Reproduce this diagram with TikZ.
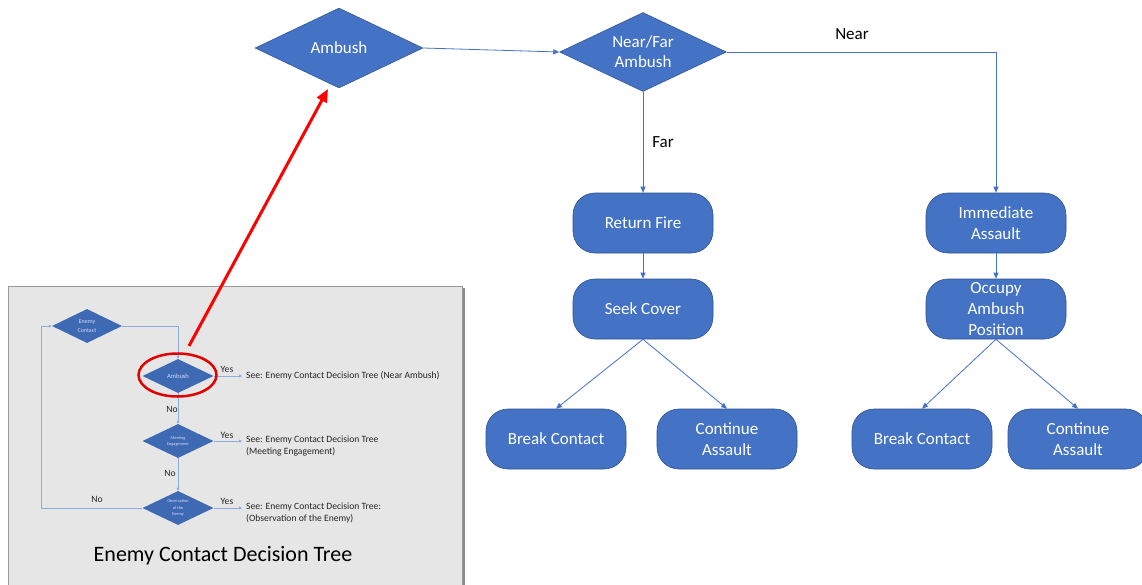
\documentclass[tikz,border=0pt]{standalone}
\usepackage{fontspec}
\setmainfont{Carlito}
\usetikzlibrary{shapes.geometric,arrows.meta}
\definecolor{blu}{HTML}{4472C4}
\definecolor{bluedge}{HTML}{2F528F}
\definecolor{insetbg}{HTML}{E6E6E6}
\definecolor{insetline}{HTML}{8FAADC}
\definecolor{insetdia}{HTML}{3E69B3}
\begin{document}
\begin{tikzpicture}[x=1pt,y=-1pt,
  dia/.style={diamond, fill=blu, draw=bluedge, line width=0.5pt, inner sep=0pt, aspect=2,
    text=white, align=center, font=\fontsize{17}{20}\selectfont},
  act/.style={rectangle, rounded corners=22pt, fill=blu, draw=bluedge, line width=0.6pt,
    minimum width=140pt, minimum height=60pt, inner sep=0pt, text=white, align=center,
    font=\fontsize{17}{21}\selectfont},
  conn/.style={draw=blu, line width=0.8pt, -{Triangle[length=6pt,width=5pt]}},
  lab/.style={font=\fontsize{17}{20}\selectfont, text=black, inner sep=0pt},
  idia/.style={diamond, fill=insetdia, inner sep=0pt, aspect=2, minimum width=71pt,
    minimum height=34pt, text=white!85!blue, align=center},
  iconn/.style={draw=insetline, line width=0.8pt, -{Triangle[length=3pt,width=3pt]}},
  iline/.style={draw=insetline, line width=0.8pt},
  itext/.style={font=\fontsize{9.6}{11.5}\selectfont, text=black!85, inner sep=0pt, align=left},
]
\useasboundingbox (0,0) rectangle (1142,584);
\fill[white] (0,0) rectangle (1142,584);

% ---------- inset ----------
\fill[black!45] (10,288) rectangle (465,600);
\draw[fill=insetbg, draw=black!40, line width=1pt] (8,286) rectangle (462,600);

\node[idia, minimum width=70pt, font=\fontsize{6}{8.5}\selectfont] (ec) at (87,326) {Enemy\\Contact};
\node[idia, font=\fontsize{6.5}{7}\selectfont] (ia) at (178,376) {Ambush};
\node[idia, font=\fontsize{4.3}{6}\selectfont] (me) at (178,441) {Meeting\\Engagement};
\node[idia, font=\fontsize{4.3}{6.5}\selectfont] (oe) at (178,508) {Observation\\of the\\Enemy};

\coordinate (lp) at (41,508);
\draw[iconn] (ec.east) -| (ia.north);
\draw[iconn] (ia.south) -- (me.north);
\draw[iconn] (me.south) -- (oe.north);
\draw[iconn] (oe.west) -- (lp) |- (ec.west);

\node[itext] (no1) at (172,409) {No};
\node[itext] (no2) at (170,473) {No};
\node[itext] (no3) at (97,499) {No};

\coordinate (ya) at (242,376);
\coordinate (ym) at (242,441);
\coordinate (yo) at (242,508);
\draw[iconn] (ia.east) -- (ya);
\draw[iconn] (me.east) -- (ym);
\draw[iconn] (oe.east) -- (yo);
\node[itext] (y1) at (227,369) {Yes};
\node[itext] (y2) at (227,435) {Yes};
\node[itext] (y3) at (227,501) {Yes};
\node[itext, anchor=west] (t1) at (246,376) {See: Enemy Contact Decision Tree (Near Ambush)};
\node[itext, anchor=north west] (t2) at (246,436) {See: Enemy Contact Decision Tree\\(Meeting Engagement)};
\node[itext, anchor=north west] (t3) at (246,503) {See: Enemy Contact Decision Tree:\\(Observation of the Enemy)};
\node[font=\fontsize{22}{26}\selectfont, text=black, inner sep=0pt] (title) at (223,556) {Enemy Contact Decision Tree};

\node[ellipse, draw=red!90!black, line width=2.5pt, minimum width=78pt, minimum height=43pt, inner sep=0pt] (circ) at (177.5,375) {};

% ---------- main chart ----------
\node[dia, minimum width=168pt, minimum height=80pt] (amb) at (339,48) {Ambush};
\node[dia, minimum width=167pt, minimum height=79pt] (nf) at (643,52) {Near/Far\\Ambush};

\node[act] (rf) at (643,223) {Return Fire};
\node[act] (sc) at (643,309) {Seek Cover};
\node[act] (bc1) at (556,439) {Break Contact};
\node[act] (ca1) at (727,439) {Continue\\Assault};
\node[act] (ia2) at (996,223) {Immediate\\Assault};
\node[act] (oa) at (996,309) {Occupy\\Ambush\\Position};
\node[act] (bc2) at (922,439) {Break Contact};
\node[act] (ca2) at (1078,439) {Continue\\Assault};

\draw[conn] (amb.east) -- (nf.west);
\draw[conn] (nf.east) -| (ia2.north);
\draw[conn] (nf.south) -- (rf.north);
\draw[conn] (rf.south) -- (sc.north);
\draw[conn] (sc.south) -- (bc1.north);
\draw[conn] (sc.south) -- (ca1.north);
\draw[conn] (ia2.south) -- (oa.north);
\draw[conn] (oa.south) -- (bc2.north);
\draw[conn] (oa.south) -- (ca2.north);

\node[lab] (near) at (852,34) {Near};
\node[lab] (far) at (663,142) {Far};

% red pointer
\coordinate (rs) at (189,346);
\coordinate (rt) at (328,89);
\draw[red, line width=3pt, -{Triangle[length=13pt,width=11pt]}] (rs) -- (rt);
\end{tikzpicture}
\end{document}
